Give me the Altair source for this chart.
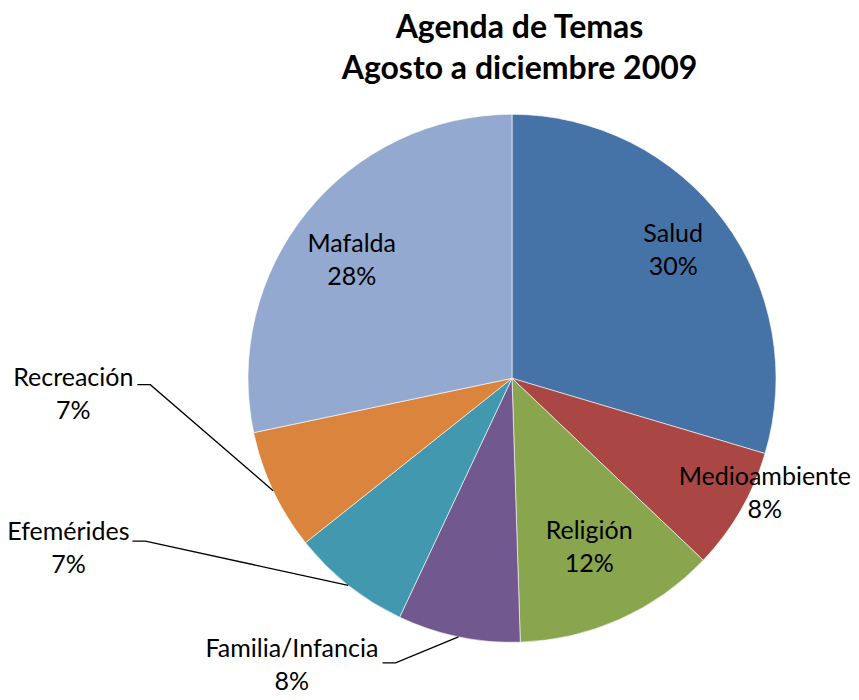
import math
import altair as alt
import pandas as pd

# ---- data ----
categories = ["Salud", "Medioambiente", "Religión", "Familia/Infancia", "Efemérides", "Recreación", "Mafalda"]
values = [29.6, 7.5, 12.4, 7.5, 7.3, 7.4, 28.3]
colors = ["#4572A7", "#AA4643", "#89A54E", "#71588F", "#4198AF", "#DB843D", "#93A9CF"]
title_lines = ["Agenda de Temas", "Agosto a diciembre 2009"]

# ---- layout (label placement relative to each slice's mid-angle) ----
W, H = 843, 684
CX, CY, R = 504, 370.3, 264
label_radius = [206, 278, 186, 361.6, 475, 439, 199]
label_shift = [-1.8, -5.5, -0.4, 25.8, 30.7, 23.1, -2.7]
leader_start = [None, None, None, (90.7, -2.3), (64, -7), (64, -9.7), None]
FONT = "Lato"
LABEL_SIZE = 25
LABEL_LH = 33
TITLE_SIZE = 32

total = sum(values)
rows, lines = [], []
cum = 0.0
for i, (c, v) in enumerate(zip(categories, values)):
    mid = (cum + v / 2) / total * 2 * math.pi
    cum += v
    a = mid + math.radians(label_shift[i])
    lx = CX + label_radius[i] * math.sin(a)
    ly = CY - label_radius[i] * math.cos(a)
    pct = int(math.floor(v / total * 100 + 0.5))
    rows.append({"cat": c, "value": v, "order": i, "lx": lx, "ly": ly,
                 "label": f"{c}\n{pct}%"})
    if leader_start[i] is not None:
        sx, sy = lx + leader_start[i][0], ly + leader_start[i][1]
        ex, ey = CX + R * math.sin(mid), CY - R * math.cos(mid)
        lines += [
            {"cat": c, "idx": 0, "x": sx, "y": sy},
            {"cat": c, "idx": 1, "x": sx + 13, "y": sy},
            {"cat": c, "idx": 2, "x": ex, "y": ey},
        ]

df = pd.DataFrame(rows)
ldf = pd.DataFrame(lines)
tdf = pd.DataFrame({"t": ["\n".join(title_lines)]})

pie = alt.Chart(df).mark_arc(outerRadius=R, stroke="#ffffff", strokeWidth=0.6).encode(
    theta=alt.Theta("value:Q", stack=True),
    color=alt.Color("cat:N", scale=alt.Scale(domain=categories, range=colors), legend=None),
    order=alt.Order("order:Q"),
    x=alt.value(CX),
    y=alt.value(CY),
)

labels = alt.Chart(df).mark_text(
    font=FONT, fontSize=LABEL_SIZE, lineBreak="\n", lineHeight=LABEL_LH,
    align="center", baseline="middle", color="#000000", dy=-LABEL_LH / 2
).encode(
    x=alt.X("lx:Q", scale=None),
    y=alt.Y("ly:Q", scale=None),
    text="label:N",
)

leaders = alt.Chart(ldf).mark_line(color="#000000", strokeWidth=1.3).encode(
    x=alt.X("x:Q", scale=None),
    y=alt.Y("y:Q", scale=None),
    detail="cat:N",
    order="idx:Q",
)

title = alt.Chart(tdf).mark_text(
    font=FONT, fontSize=TITLE_SIZE, fontWeight="bold", lineBreak="\n", lineHeight=41,
    align="center", baseline="middle", color="#000000"
).encode(
    x=alt.value(511.5),
    y=alt.value(19.5),
    text="t:N",
)

chart = alt.layer(pie, leaders, labels, title).properties(
    width=W, height=H, padding=0, autosize=alt.AutoSizeParams(type="none")
).configure_view(stroke=None)

chart.save("out.html", embed_options={"renderer": "svg", "actions": False})
